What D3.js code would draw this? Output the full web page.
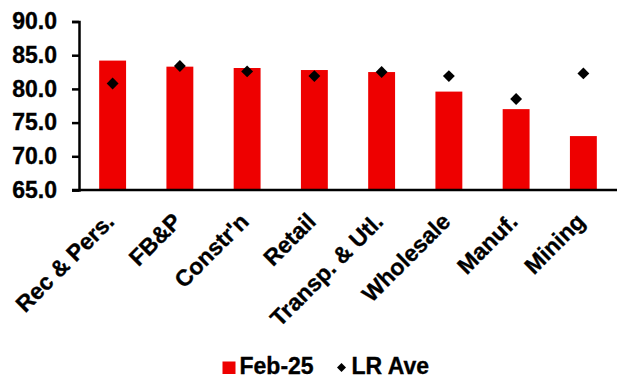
<!DOCTYPE html>
<html>
<head>
<meta charset="utf-8">
<script src="https://cdn.jsdelivr.net/npm/d3@7"></script>
<style>
  html, body { margin: 0; padding: 0; background: #fff; }
  svg { display: block; }
  text { font-family: "Liberation Sans", Arial, sans-serif; font-weight: bold; fill: #000; stroke: #000; stroke-width: 0.35px; }
</style>
</head>
<body>
<svg id="chart" width="621" height="383"></svg>
<script>
// Sector readings: current month vs long-run average
const categories = ["Rec & Pers.", "FB&P", "Constr'n", "Retail", "Transp. & Utl.", "Wholesale", "Manuf.", "Mining"];
const feb25 = [84.2, 83.3, 83.1, 82.8, 82.5, 79.6, 77.0, 73.0];
const lrAve = [80.8, 83.4, 82.6, 81.9, 82.5, 81.9, 78.5, 82.3];
const yTicks = [65, 70, 75, 80, 85, 90];
const seriesNames = ["Feb-25", "LR Ave"];

const FONT = "Liberation Sans, Arial, sans-serif";
const FS = "23px";

const svg = d3.select("#chart");
const margin = { left: 79, right: 4, top: 21.5, bottom: 193 };
const W = 621, H = 383;
const x0 = margin.left, x1 = W - margin.right;
const yTop = margin.top, yBot = H - margin.bottom;

const x = d3.scaleBand().domain(categories).range([x0, x1]).paddingInner(0.6).paddingOuter(0.3);
const y = d3.scaleLinear().domain([65, 90]).range([yBot, yTop]);

// Bars
svg.append("g").selectAll("rect")
  .data(categories)
  .join("rect")
  .attr("x", d => x(d))
  .attr("width", x.bandwidth())
  .attr("y", (d, i) => y(feb25[i]))
  .attr("height", (d, i) => y(65) - y(feb25[i]))
  .attr("fill", "#ee0000");

// Long-run average markers
const diamond = d3.symbol().type(d3.symbolDiamond2).size(90);
svg.append("g").selectAll("path")
  .data(categories)
  .join("path")
  .attr("d", diamond)
  .attr("transform", (d, i) => `translate(${x(d) + x.bandwidth() / 2},${y(lrAve[i])})`)
  .attr("fill", "#000");

// Y axis
const yAxis = svg.append("g")
  .attr("transform", `translate(${x0},0)`)
  .call(d3.axisLeft(y).tickValues(yTicks).tickFormat(d3.format(".1f")).tickSize(7).tickPadding(15));
yAxis.select(".domain").attr("stroke", "#000").attr("stroke-width", 2.5);
yAxis.selectAll(".tick line").attr("stroke", "#000").attr("stroke-width", 2.5);
yAxis.selectAll("text").style("font-size", FS).style("font-family", FONT).style("font-weight", "bold").attr("fill", "#000");

// X axis
const xAxis = svg.append("g")
  .attr("transform", `translate(0,${yBot})`)
  .call(d3.axisBottom(x).tickSize(0).tickPadding(0));
xAxis.select(".domain").attr("stroke", "#000").attr("stroke-width", 2.5).attr("d", `M${x0 - 7},0H${x1}`);
xAxis.selectAll("text")
  .style("font-size", FS).style("font-family", FONT).style("font-weight", "bold")
  .attr("fill", "#000")
  .attr("text-anchor", "end")
  .attr("y", 0)
  .attr("dy", "0")
  .attr("transform", "translate(3,33) rotate(-45)");

// Legend
const lg = svg.append("g").attr("transform", "translate(222.5,374)");
lg.append("rect").attr("x", 0).attr("y", -12.5).attr("width", 13).attr("height", 12.5).attr("fill", "#ee0000");
lg.append("text").attr("x", 17).attr("y", 0).style("font-size", FS).text(seriesNames[0]);
lg.append("path").attr("d", d3.symbol().type(d3.symbolDiamond2).size(52)).attr("transform", "translate(119,-6.5)").attr("fill", "#000");
lg.append("text").attr("x", 129).attr("y", 0).style("font-size", FS).text(seriesNames[1]);
</script>
</body>
</html>
